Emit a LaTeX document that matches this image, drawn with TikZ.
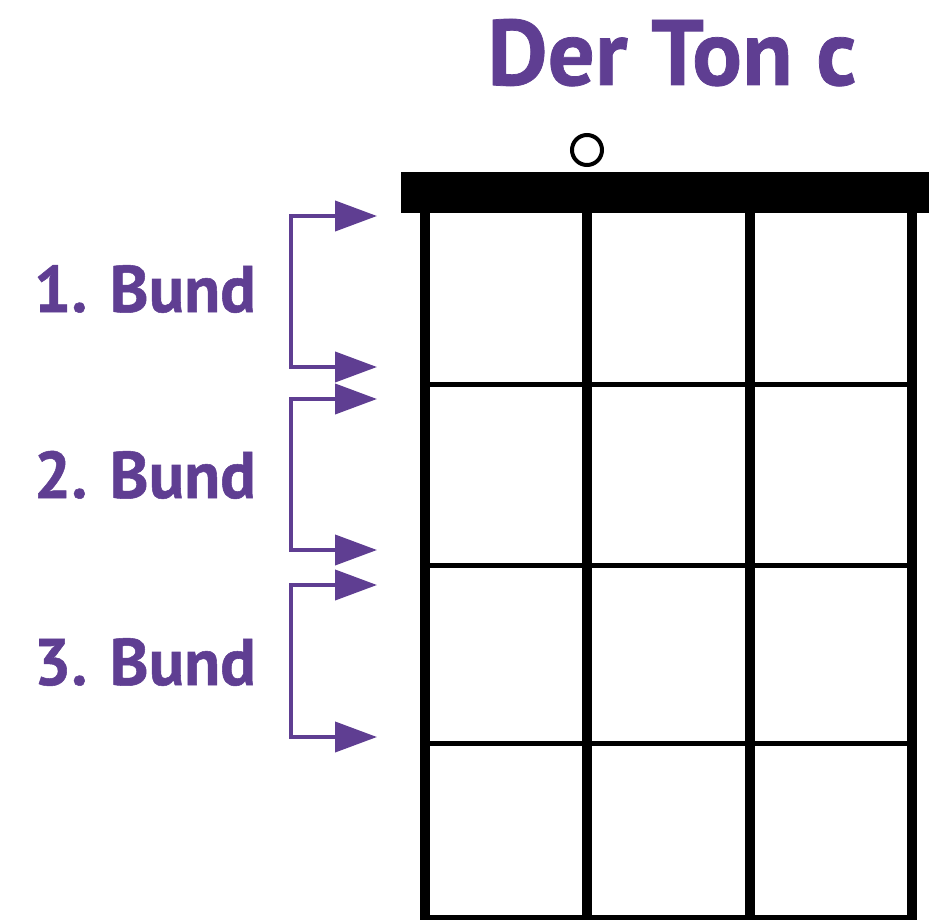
\documentclass[tikz,border=0pt]{standalone}
\usepackage{fontspec}
\setmainfont{PT Sans}
\newfontfamily\bundfont[BoldFeatures={FakeBold=0.8}]{PT Sans}
\usetikzlibrary{arrows.meta}
\definecolor{bundpurple}{RGB}{95,62,146}
\begin{document}
\begin{tikzpicture}[x=1pt,y=-1pt,
  stringline/.style={line width=10pt},
  fretline/.style={line width=5pt},
  bracketline/.style={bundpurple, line width=4pt, line join=miter,
    {Triangle[length=42pt,width=30pt]}-{Triangle[length=42pt,width=30pt]}},
  bundlabel/.style={text=bundpurple, font=\bundfont\bfseries\fontsize{66}{70}\selectfont, inner sep=0pt, anchor=base east},
  titlelabel/.style={text=bundpurple, font=\bundfont\bfseries\fontsize{93}{96}\selectfont, inner sep=0pt, anchor=base}
]
\useasboundingbox (0,0) rectangle (929,920);
% title
\node[titlelabel] (title) at (672,85) {Der Ton c};
% open string marker
\draw[line width=4pt] (587,150) circle (15);
% nut
\fill (401,172) rectangle (929,213);
% strings
\foreach \x in {425,587,750,912}{
  \draw[stringline] (\x,210) -- (\x,920);
}
% frets
\foreach \y in {384,565,743,917}{
  \draw[fretline] (425,\y) -- (912,\y);
}
% brackets
\coordinate (a1) at (377,216); \coordinate (b1) at (377,367);
\coordinate (a2) at (377,399); \coordinate (b2) at (377,550);
\coordinate (a3) at (377,585); \coordinate (b3) at (377,737);
\draw[bracketline] (a1) -- (291,216) -- (291,367) -- (b1);
\draw[bracketline] (a2) -- (291,399) -- (291,550) -- (b2);
\draw[bracketline] (a3) -- (291,585) -- (291,737) -- (b3);
% labels
\node[bundlabel] (l1) at (256,312) {1. Bund};
\node[bundlabel] (l2) at (256,498) {2. Bund};
\node[bundlabel] (l3) at (256,685) {3. Bund};
\end{tikzpicture}
\end{document}
